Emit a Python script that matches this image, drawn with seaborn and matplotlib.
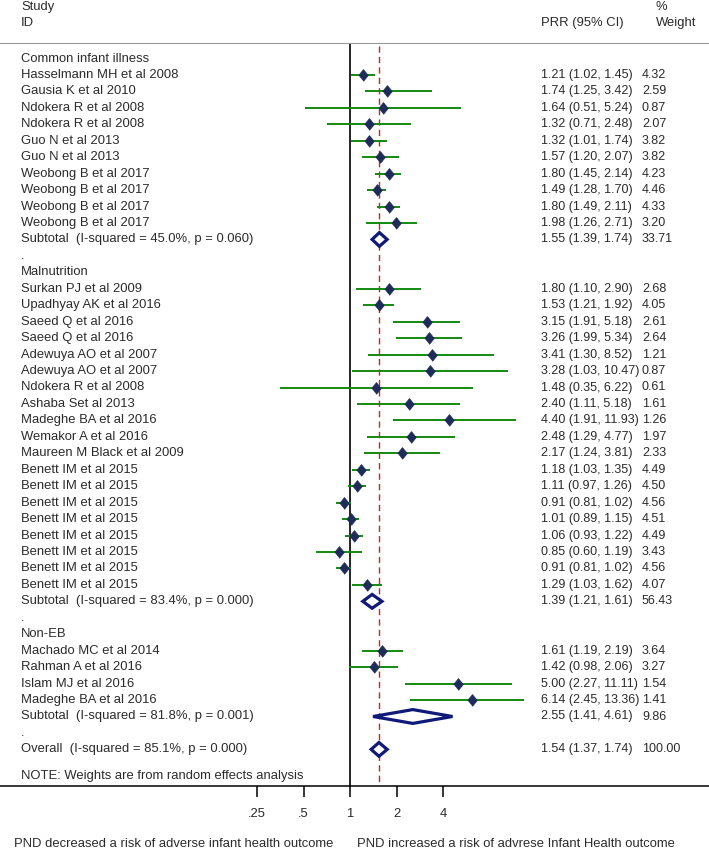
import numpy as np
import pandas as pd
import matplotlib
matplotlib.use("Agg")
import matplotlib.pyplot as plt
import seaborn as sns

## data
groups = ["Common infant illness", "Malnutrition", "Non-EB"]

study = ["Hasselmann MH et al 2008", "Gausia K et al 2010", "Ndokera R et al 2008",
         "Ndokera R et al 2008", "Guo N et al 2013", "Guo N et al 2013",
         "Weobong B et al 2017", "Weobong B et al 2017", "Weobong B et al 2017",
         "Weobong B et al 2017",
         "Surkan PJ et al 2009", "Upadhyay AK et al 2016", "Saeed Q et al 2016",
         "Saeed Q et al 2016", "Adewuya AO et al 2007", "Adewuya AO et al 2007",
         "Ndokera R et al 2008", "Ashaba Set al 2013", "Madeghe BA et al 2016",
         "Wemakor A et al 2016", "Maureen M Black et al 2009",
         "Benett IM et al 2015", "Benett IM et al 2015", "Benett IM et al 2015",
         "Benett IM et al 2015", "Benett IM et al 2015", "Benett IM et al 2015",
         "Benett IM et al 2015", "Benett IM et al 2015",
         "Machado MC et al 2014", "Rahman A et al 2016", "Islam MJ et al 2016",
         "Madeghe BA et al 2016"]
group = [0]*10 + [1]*19 + [2]*4
prr = [1.21, 1.74, 1.64, 1.32, 1.32, 1.57, 1.80, 1.49, 1.80, 1.98,
       1.80, 1.53, 3.15, 3.26, 3.41, 3.28, 1.48, 2.40, 4.40, 2.48, 2.17,
       1.18, 1.11, 0.91, 1.01, 1.06, 0.85, 0.91, 1.29,
       1.61, 1.42, 5.00, 6.14]
lower = [1.02, 1.25, 0.51, 0.71, 1.01, 1.20, 1.45, 1.28, 1.49, 1.26,
         1.10, 1.21, 1.91, 1.99, 1.30, 1.03, 0.35, 1.11, 1.91, 1.29, 1.24,
         1.03, 0.97, 0.81, 0.89, 0.93, 0.60, 0.81, 1.03,
         1.19, 0.98, 2.27, 2.45]
upper = [1.45, 3.42, 5.24, 2.48, 1.74, 2.07, 2.14, 1.70, 2.11, 2.71,
         2.90, 1.92, 5.18, 5.34, 8.52, 10.47, 6.22, 5.18, 11.93, 4.77, 3.81,
         1.35, 1.26, 1.02, 1.15, 1.22, 1.19, 1.02, 1.62,
         2.19, 2.06, 11.11, 13.36]
weight = [4.32, 2.59, 0.87, 2.07, 3.82, 3.82, 4.23, 4.46, 4.33, 3.20,
          2.68, 4.05, 2.61, 2.64, 1.21, 0.87, 0.61, 1.61, 1.26, 1.97, 2.33,
          4.49, 4.50, 4.56, 4.51, 4.49, 3.43, 4.56, 4.07,
          3.64, 3.27, 1.54, 1.41]

sub_label = ["Subtotal  (I-squared = 45.0%, p = 0.060)",
             "Subtotal  (I-squared = 83.4%, p = 0.000)",
             "Subtotal  (I-squared = 81.8%, p = 0.001)"]
sub_prr = [1.55, 1.39, 2.55]
sub_lower = [1.39, 1.21, 1.41]
sub_upper = [1.74, 1.61, 4.61]
sub_weight = [33.71, 56.43, 9.86]

overall_label = "Overall  (I-squared = 85.1%, p = 0.000)"
overall = (1.54, 1.37, 1.74, 100.00)
note = "NOTE: Weights are from random effects analysis"

xticks = [0.25, 0.5, 1, 2, 4]
xticklabels = [".25", ".5", "1", "2", "4"]

## build the row layout (one row per line of text)
rows = []
for g, gname in enumerate(groups):
    rows.append(dict(label=gname, kind="head"))
    for i in range(len(study)):
        if group[i] == g:
            rows.append(dict(label=study[i], kind="study", est=prr[i],
                             lo=lower[i], hi=upper[i], w=weight[i]))
    rows.append(dict(label=sub_label[g], kind="sub", est=sub_prr[g],
                     lo=sub_lower[g], hi=sub_upper[g], w=sub_weight[g]))
    rows.append(dict(label=".", kind="blank"))
rows.append(dict(label=overall_label, kind="sub", est=overall[0],
                 lo=overall[1], hi=overall[2], w=overall[3]))
df = pd.DataFrame(rows)
df["y"] = np.arange(len(df), dtype=float)
note_y = len(df) - 1 + 1.6

## figure
W, H = 709, 851
sns.set_style("white")
plt.rcParams["font.family"] = ["Liberation Sans", "DejaVu Sans"]
txt = "#2b2b2b"
fs = 9.4
fs_num = 9.0

fig = plt.figure(figsize=(W/100, H/100), dpi=100)
top_px, bot_px = 43, 786
ax = fig.add_axes([0, 1 - bot_px/H, 1, (bot_px - top_px)/H])

# log x scale: 1 sits at px 350, 46.5 px per doubling
null_px, per2 = 350, 46.5
ax.set_xscale("log", base=2)
ax.set_xlim(2**(-null_px/per2), 2**((W - null_px)/per2))
first_px, step = 58.5, 16.45
ax.set_ylim((bot_px - first_px)/step, -(first_px - top_px)/step)

# reference lines
ax.axvline(1, color="black", lw=1.2, zorder=1)
ax.vlines(overall[0], -0.75, 50, color="#c0282d", lw=1.0,
          linestyles=(0, (4.5, 3)), zorder=1)

# confidence intervals
st = df[df.kind == "study"]
ax.hlines(st.y, st.lo, st.hi, color="#12890f", lw=1.4, zorder=2)

# point estimates
diamond = [(0, -0.5), (0.41, 0), (0, 0.5), (-0.41, 0)]
sns.scatterplot(data=st, x="est", y="y", ax=ax, marker=diamond, s=72,
                color="#1d2c58", edgecolor="#1d2c58", linewidth=0.5,
                zorder=3, legend=False)

# pooled diamonds
for _, r in df[df.kind == "sub"].iterrows():
    hh = 0.42
    ax.fill([r.lo, r.est, r.hi, r.est, r.lo], [r.y, r.y - hh, r.y, r.y + hh, r.y],
            facecolor="white", edgecolor="#101a78", lw=2.3, zorder=3)

# text columns
tr = ax.get_yaxis_transform()
for _, r in df.iterrows():
    ax.text(21/W, r.y, r.label, transform=tr, ha="left", va="center",
            fontsize=fs, color=txt)
    if r.kind in ("study", "sub"):
        ax.text(541/W, r.y, f"{r.est:.2f} ({r.lo:.2f}, {r.hi:.2f})", transform=tr,
                ha="left", va="center", fontsize=fs_num, color=txt)
        ax.text(642/W, r.y, f"{r.w:.2f}", transform=tr, ha="left", va="center",
                fontsize=fs_num, color=txt)
ax.text(21/W, note_y, note, transform=tr, ha="left", va="center",
        fontsize=fs, color=txt)

# spines and ticks
for s in ["left", "right"]:
    ax.spines[s].set_visible(False)
ax.spines["top"].set_color("#9a9a9a")
ax.spines["top"].set_linewidth(0.8)
ax.spines["bottom"].set_color("black")
ax.spines["bottom"].set_linewidth(1.1)
ax.set_yticks([])
ax.set_xticks(xticks)
ax.set_xticklabels(xticklabels)
ax.minorticks_off()
ax.tick_params(axis="x", bottom=True, direction="out", length=8, width=1.1, pad=8,
               labelsize=fs, labelcolor=txt, color="black")
ax.set_xlabel("")
ax.set_ylabel("")

# headers and footer
fig.text(21/W, 1 - 7/H, "Study", ha="left", va="center", fontsize=fs, color=txt)
fig.text(21/W, 1 - 23/H, "ID", ha="left", va="center", fontsize=fs, color=txt)
fig.text(541/W, 1 - 23/H, "PRR (95% CI)", ha="left", va="center", fontsize=fs, color=txt)
fig.text(656/W, 1 - 7/H, "%", ha="left", va="center", fontsize=fs, color=txt)
fig.text(656/W, 1 - 23/H, "Weight", ha="left", va="center", fontsize=fs, color=txt)
fig.text(333/W, 1 - 844/H, "PND decreased a risk of adverse infant health outcome",
         ha="right", va="center", fontsize=fs, color=txt)
fig.text(357/W, 1 - 844/H, "PND increased a risk of advrese Infant Health outcome",
         ha="left", va="center", fontsize=fs, color=txt)

fig.savefig("out.png", dpi=100, facecolor="white")
